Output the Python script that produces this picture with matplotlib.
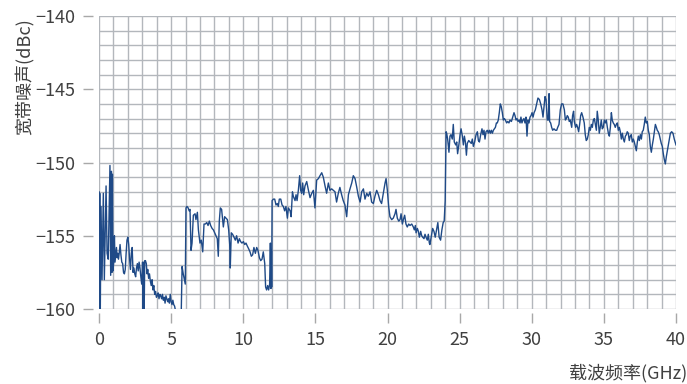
import numpy as np
import matplotlib
matplotlib.use('Agg')
import matplotlib.pyplot as plt
from matplotlib.ticker import MultipleLocator

plt.rcParams['font.family'] = ['Noto Sans CJK SC', 'DejaVu Sans']
plt.rcParams['font.weight'] = 'light'

# (GHz, dBc), one list per stretch of the sweep
band_0_6 = [
    (0.00, -152.0), (0.02, -160.2), (0.05, -152.1), (0.09, -160.2), (0.14, -153.0),
    (0.21, -158.0), (0.30, -152.1), (0.37, -158.0), (0.49, -151.6), (0.56, -156.2),
    (0.64, -156.6), (0.76, -150.2), (0.81, -157.7), (0.86, -150.6), (0.90, -157.5),
    (0.93, -150.8), (0.97, -157.4), (1.02, -156.8), (1.07, -155.0), (1.11, -156.8),
    (1.16, -156.3), (1.21, -155.8), (1.26, -156.5), (1.30, -156.2), (1.35, -156.6),
    (1.40, -156.2), (1.46, -155.6), (1.52, -156.3), (1.58, -156.8), (1.64, -156.9),
    (1.70, -157.5), (1.76, -157.6), (1.82, -157.3), (1.88, -156.2), (1.94, -155.3),
    (2.00, -155.1), (2.06, -155.6), (2.12, -156.6), (2.18, -157.3), (2.24, -156.2),
    (2.30, -155.8), (2.36, -157.5), (2.42, -157.2), (2.48, -157.6), (2.54, -157.8),
    (2.60, -157.2), (2.66, -156.9), (2.72, -157.4), (2.78, -156.8), (2.84, -157.2),
    (2.90, -157.8), (2.96, -158.3), (3.02, -156.8), (3.06, -160.3), (3.10, -156.8),
    (3.13, -160.3), (3.17, -156.7), (3.22, -156.7), (3.28, -156.9), (3.33, -157.6),
    (3.38, -157.3), (3.44, -157.9), (3.50, -157.6), (3.56, -158.1), (3.62, -158.4),
    (3.68, -158.0), (3.74, -158.7), (3.80, -158.4), (3.86, -159.0), (3.92, -158.8),
    (3.98, -159.2), (4.04, -159.1), (4.10, -158.9), (4.16, -159.3), (4.22, -159.0),
    (4.28, -159.1), (4.34, -159.3), (4.40, -159.0), (4.46, -159.4), (4.52, -159.2),
    (4.58, -159.6), (4.64, -159.1), (4.70, -159.3), (4.76, -159.5), (4.82, -159.3),
    (4.88, -159.6), (4.94, -159.0), (5.00, -159.5), (5.06, -159.7), (5.12, -159.4),
    (5.18, -159.7), (5.24, -159.8), (5.30, -160.1), (5.40, -160.5), (5.55, -160.8),
    (5.70, -160.3), (5.76, -157.1), (5.84, -157.6), (5.92, -158.0), (5.98, -158.3),
    (6.03, -153.1), (6.10, -153.0), (6.18, -153.1), (6.25, -153.3),
]

band_6_13 = [
    (6.31, -153.2), (6.38, -156.0), (6.45, -155.5), (6.54, -153.6), (6.66, -153.5),
    (6.72, -153.9), (6.82, -153.4), (6.89, -154.6), (7.00, -155.5), (7.09, -155.3),
    (7.19, -156.1), (7.28, -154.2), (7.37, -154.2), (7.47, -154.1), (7.56, -154.3),
    (7.65, -154.0), (7.74, -154.3), (7.84, -154.5), (7.93, -154.6), (8.02, -154.8),
    (8.11, -155.0), (8.20, -155.2), (8.27, -156.4), (8.34, -154.0), (8.41, -153.1),
    (8.50, -153.2), (8.62, -154.4), (8.71, -153.7), (8.80, -153.8), (8.90, -153.9),
    (8.99, -154.6), (9.06, -155.6), (9.10, -157.2), (9.17, -154.8), (9.26, -154.9),
    (9.36, -155.1), (9.45, -155.3), (9.54, -155.0), (9.64, -155.5), (9.73, -155.2),
    (9.82, -155.4), (9.91, -155.5), (10.01, -155.4), (10.10, -155.6), (10.19, -155.5),
    (10.28, -155.7), (10.38, -155.9), (10.47, -156.1), (10.56, -156.4), (10.65, -156.3),
    (10.74, -155.8), (10.84, -156.2), (10.93, -155.8), (11.02, -156.0), (11.12, -156.5),
    (11.21, -156.7), (11.30, -156.6), (11.39, -156.1), (11.49, -156.9), (11.55, -158.5),
    (11.62, -158.7), (11.69, -158.4), (11.76, -158.7), (11.83, -158.3), (11.88, -155.5),
    (11.92, -158.6), (11.95, -156.0), (11.97, -158.5), (12.00, -152.6), (12.09, -152.5),
    (12.18, -152.5), (12.27, -152.9), (12.36, -152.8), (12.43, -153.0), (12.50, -152.5),
    (12.60, -152.5), (12.69, -152.9), (12.78, -153.0), (12.87, -153.3), (12.96, -153.0),
]

band_13_19 = [
    (13.06, -153.8), (13.13, -153.1), (13.25, -153.3), (13.32, -153.7), (13.41, -152.0),
    (13.47, -152.3), (13.59, -152.6), (13.66, -152.2), (13.73, -152.6), (13.82, -151.9),
    (13.91, -150.9), (13.98, -151.9), (14.05, -152.1), (14.12, -151.4), (14.19, -152.2),
    (14.28, -151.6), (14.40, -151.3), (14.52, -151.9), (14.63, -152.4), (14.75, -152.1),
    (14.86, -151.9), (14.97, -153.1), (15.09, -151.2), (15.21, -151.1), (15.32, -150.9),
    (15.44, -150.7), (15.55, -151.0), (15.67, -151.6), (15.78, -152.1), (15.90, -151.4),
    (16.01, -151.9), (16.13, -151.8), (16.24, -151.9), (16.36, -152.0), (16.47, -152.7),
    (16.59, -152.1), (16.70, -151.7), (16.82, -152.2), (16.93, -152.6), (17.05, -152.9),
    (17.17, -153.7), (17.29, -152.2), (17.40, -151.8), (17.52, -151.4), (17.63, -150.9),
    (17.75, -151.1), (17.87, -151.7), (17.98, -152.3), (18.10, -152.7), (18.21, -152.0),
    (18.33, -151.8), (18.44, -152.5), (18.56, -152.1), (18.67, -152.3), (18.79, -152.0),
    (18.90, -152.7), (19.02, -152.8), (19.13, -152.3), (19.25, -151.9), (19.37, -152.2),
]

band_19_24 = [
    (19.48, -152.6), (19.59, -152.8), (19.71, -152.1), (19.83, -151.4), (19.90, -151.1),
    (19.99, -151.9), (20.08, -153.0), (20.17, -153.7), (20.29, -153.9), (20.40, -153.8),
    (20.52, -153.5), (20.59, -153.2), (20.68, -153.8), (20.78, -154.0), (20.87, -153.9),
    (20.94, -153.5), (21.03, -154.2), (21.10, -153.9), (21.19, -153.6), (21.28, -154.2),
    (21.37, -154.4), (21.47, -154.2), (21.56, -154.3), (21.68, -154.2), (21.79, -154.4),
    (21.86, -154.6), (21.93, -154.3), (21.98, -154.8), (22.07, -154.5), (22.14, -154.7),
    (22.21, -155.1), (22.30, -154.7), (22.37, -155.0), (22.44, -155.1), (22.53, -155.2),
    (22.60, -154.9), (22.67, -155.1), (22.76, -155.3), (22.83, -154.9), (22.90, -155.5),
    (22.94, -155.6), (23.06, -154.9), (23.13, -154.5), (23.22, -154.7), (23.31, -155.1),
    (23.40, -154.6), (23.49, -154.1), (23.58, -155.1), (23.68, -155.3), (23.77, -154.6),
    (23.86, -154.1), (23.93, -154.0), (24.00, -152.6),
]

band_24_32 = [
    (24.06, -147.9), (24.10, -148.0), (24.17, -148.4), (24.26, -149.3), (24.33, -148.2),
    (24.40, -148.1), (24.49, -148.4), (24.56, -147.4), (24.63, -148.6), (24.73, -148.8),
    (24.80, -148.6), (24.86, -149.4), (24.96, -148.7), (25.03, -148.1), (25.10, -147.7),
    (25.19, -148.2), (25.26, -148.8), (25.33, -148.2), (25.40, -148.6), (25.47, -149.5),
    (25.53, -148.7), (25.63, -148.5), (25.72, -148.6), (25.81, -148.7), (25.88, -148.4),
    (25.95, -148.9), (26.04, -148.6), (26.14, -148.1), (26.23, -147.9), (26.30, -148.5),
    (26.37, -148.6), (26.46, -148.1), (26.55, -147.7), (26.62, -148.1), (26.69, -147.8),
    (26.76, -148.4), (26.83, -147.9), (26.92, -147.8), (26.99, -148.0), (27.06, -147.8),
    (27.13, -148.0), (27.20, -147.8), (27.27, -148.0), (27.34, -147.8), (27.41, -147.7),
    (27.48, -147.6), (27.55, -147.3), (27.61, -147.3), (27.68, -147.1), (27.75, -146.6),
    (27.82, -146.0), (27.89, -146.2), (27.96, -146.6), (28.03, -147.1), (28.10, -147.0),
    (28.17, -147.1), (28.26, -147.3), (28.33, -147.2), (28.42, -147.3), (28.49, -147.1),
    (28.59, -147.2), (28.68, -146.9), (28.77, -146.6), (28.84, -146.8), (28.91, -147.1),
    (28.98, -147.0), (29.05, -147.2), (29.12, -147.1), (29.19, -147.3), (29.25, -146.9),
    (29.32, -147.3), (29.39, -147.1), (29.46, -147.0), (29.53, -147.3), (29.60, -146.9),
    (29.67, -148.2), (29.74, -147.1), (29.81, -147.3), (29.88, -146.9), (29.95, -146.8),
    (30.02, -146.6), (30.09, -146.9), (30.16, -146.6), (30.25, -146.4), (30.34, -146.0),
    (30.43, -145.6), (30.53, -145.7), (30.62, -146.0), (30.71, -146.4), (30.78, -146.9),
    (30.85, -146.2), (30.92, -145.5), (30.99, -145.7), (31.08, -147.1), (31.15, -147.1),
    (31.20, -145.3), (31.24, -147.2), (31.31, -147.3), (31.38, -147.6), (31.45, -147.8),
    (31.54, -147.7), (31.64, -147.8),
]

band_32_40 = [
    (31.73, -147.8), (31.80, -147.6), (31.89, -147.4), (31.98, -146.4), (32.07, -146.0),
    (32.16, -146.0), (32.26, -146.4), (32.33, -147.1), (32.40, -147.0), (32.46, -146.8),
    (32.53, -146.9), (32.60, -147.2), (32.67, -147.1), (32.77, -147.6), (32.83, -146.8),
    (32.90, -146.5), (32.95, -147.2), (33.04, -147.6), (33.11, -147.4), (33.18, -147.6),
    (33.25, -147.9), (33.32, -147.4), (33.39, -146.8), (33.46, -146.6), (33.55, -146.9),
    (33.64, -147.3), (33.71, -148.1), (33.78, -148.5), (33.85, -148.4), (33.92, -148.1),
    (33.99, -147.6), (34.06, -147.8), (34.13, -147.4), (34.20, -147.6), (34.27, -147.1),
    (34.34, -147.0), (34.41, -147.4), (34.48, -147.8), (34.54, -146.5), (34.61, -147.1),
    (34.68, -148.0), (34.75, -147.6), (34.82, -147.1), (34.89, -147.7), (34.96, -147.6),
    (35.03, -147.1), (35.10, -147.3), (35.17, -147.1), (35.24, -147.6), (35.31, -148.0),
    (35.38, -148.2), (35.45, -147.6), (35.52, -146.6), (35.58, -147.1), (35.65, -147.3),
    (35.72, -147.4), (35.79, -147.6), (35.86, -147.4), (35.93, -147.3), (36.00, -147.8),
    (36.07, -147.6), (36.14, -147.9), (36.21, -148.4), (36.28, -148.0), (36.35, -148.4),
    (36.42, -148.6), (36.49, -148.2), (36.56, -148.1), (36.62, -147.9), (36.69, -148.0),
    (36.76, -148.5), (36.83, -148.2), (36.90, -148.1), (36.97, -148.6), (37.04, -148.4),
    (37.11, -148.6), (37.18, -148.9), (37.25, -149.2), (37.32, -148.6), (37.39, -148.2),
    (37.46, -148.5), (37.53, -148.1), (37.60, -148.4), (37.66, -147.9), (37.73, -147.8),
    (37.80, -147.4), (37.87, -146.9), (37.94, -147.3), (38.01, -147.2), (38.08, -147.8),
    (38.15, -148.1), (38.22, -148.9), (38.29, -149.3), (38.36, -148.8), (38.43, -148.4),
    (38.50, -147.9), (38.57, -147.4), (38.64, -147.6), (38.70, -147.8), (38.77, -147.9),
    (38.84, -148.1), (38.91, -148.4), (38.98, -148.7), (39.05, -148.9), (39.12, -149.4),
    (39.19, -149.8), (39.26, -150.1), (39.33, -149.6), (39.40, -149.2), (39.47, -148.8),
    (39.54, -148.4), (39.61, -148.0), (39.70, -147.9), (39.79, -148.0), (39.88, -148.4),
    (39.97, -148.7), (40.00, -148.8),
]

xticks = [0, 5, 10, 15, 20, 25, 30, 35, 40]
yticks = [-160, -155, -150, -145, -140]
xlabel = '载波频率(GHz)'
ylabel = '宽带噪声(dBc)'

points = band_0_6 + band_6_13 + band_13_19 + band_19_24 + band_24_32 + band_32_40
freq = np.array([p[0] for p in points])
noise = np.array([p[1] for p in points])

fig = plt.figure(figsize=(6.87, 3.84), dpi=100)
ax = fig.add_axes([99/687, 75/384, 577/687, 293/384])

ax.plot(freq, noise, c='#1f4a87', lw=1.0)

ax.set_xlim(0, 40)
ax.set_ylim(-160, -140)
ax.set_xticks(xticks)
ax.set_yticks(yticks)
ax.xaxis.set_minor_locator(MultipleLocator(1))
ax.yaxis.set_minor_locator(MultipleLocator(1))
ax.grid(which='both', color='#b3b7bc', lw=1.0)
ax.set_axisbelow(True)

for s in ax.spines.values():
    s.set_visible(False)
ax.spines['left'].set_position(('outward', 4.3))
ax.spines['bottom'].set_position(('outward', 3.0))
ax.tick_params(which='major', length=7.5, width=1, color='#a8a8a8',
               labelsize=13, labelcolor='#404040', pad=5.5)
ax.tick_params(which='minor', length=0)

fig.text(25/687, 1 - 18/384, ylabel, rotation=90, ha='center', va='top',
         fontsize=13, color='#404040')
fig.text(1.0, 1 - 373/384, xlabel, ha='right', va='center',
         fontsize=13, color='#404040')

fig.savefig('out.png', dpi=100)
